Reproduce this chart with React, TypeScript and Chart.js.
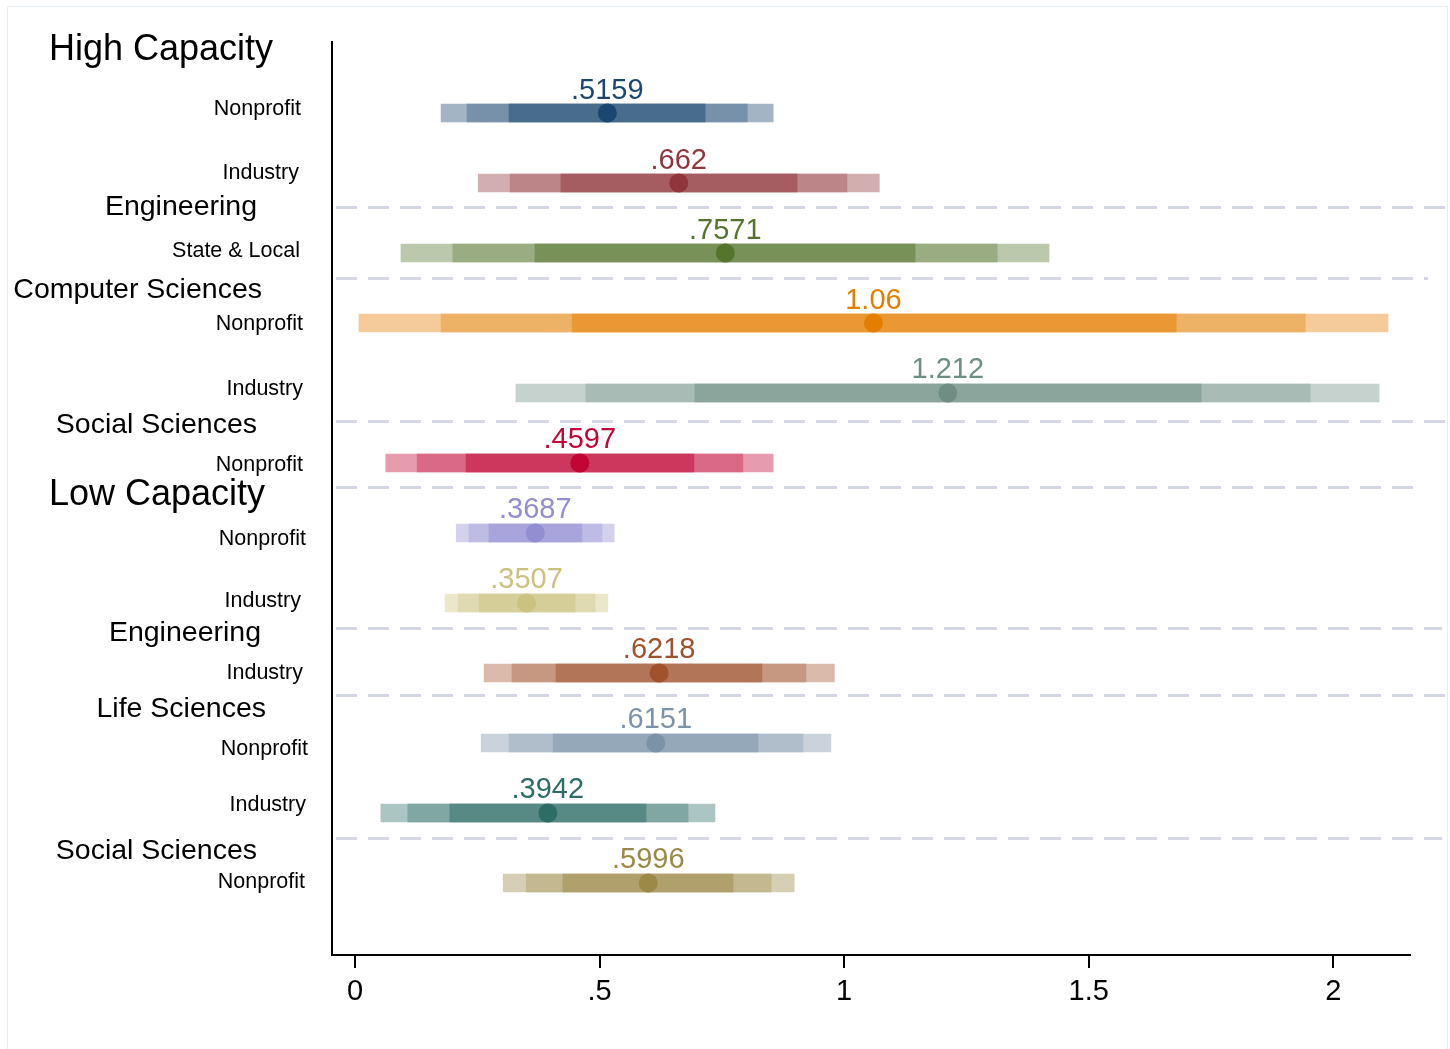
import React, { useEffect, useRef } from "react";
import { Chart, registerables } from "chart.js";

Chart.register(...registerables);

// ---------- data ----------
const rowLabels = [
  "Nonprofit", "Industry", "State & Local", "Nonprofit", "Industry", "Nonprofit",
  "Nonprofit", "Industry", "Industry", "Nonprofit", "Industry", "Nonprofit",
];
const estimates = [0.5159, 0.662, 0.7571, 1.06, 1.212, 0.4597, 0.3687, 0.3507, 0.6218, 0.6151, 0.3942, 0.5996];
const estimateText = [".5159", ".662", ".7571", "1.06", "1.212", ".4597", ".3687", ".3507", ".6218", ".6151", ".3942", ".5996"];

const outerLow = [0.176, 0.252, 0.094, 0.008, 0.329, 0.063, 0.207, 0.184, 0.264, 0.258, 0.053, 0.303];
const outerHigh = [0.855, 1.072, 1.419, 2.112, 2.094, 0.855, 0.530, 0.517, 0.980, 0.973, 0.736, 0.898];
const midLow = [0.229, 0.317, 0.200, 0.176, 0.472, 0.127, 0.233, 0.211, 0.321, 0.315, 0.108, 0.350];
const midHigh = [0.802, 1.006, 1.313, 1.943, 1.953, 0.793, 0.505, 0.491, 0.922, 0.916, 0.681, 0.851];
const innerLow = [0.315, 0.421, 0.368, 0.444, 0.695, 0.227, 0.274, 0.254, 0.411, 0.405, 0.194, 0.425];
const innerHigh = [0.716, 0.904, 1.145, 1.679, 1.730, 0.693, 0.464, 0.450, 0.832, 0.824, 0.595, 0.773];

const seriesColors: number[][] = [
  [26, 71, 111], [144, 53, 59], [85, 117, 47], [227, 126, 0], [110, 142, 132], [193, 5, 52],
  [147, 141, 210], [202, 194, 126], [160, 82, 45], [123, 146, 168], [45, 109, 102], [156, 136, 71],
];

const xTickValues = [0, 0.5, 1, 1.5, 2];
const xTickLabels = ["0", ".5", "1", "1.5", "2"];

const groupLabels = ["High Capacity", "Low Capacity"];
const categoryLabels = ["Engineering", "Computer Sciences", "Social Sciences", "Engineering", "Life Sciences", "Social Sciences"];

// ---------- layout (annotation placement) ----------
const groupLayout = [
  { row: -0.929, left: 49 },
  { row: 5.429, left: 49 },
];
const categoryLayout = [
  { row: 1.314, right: 257 },
  { row: 2.5, right: 262 },
  { row: 4.429, right: 257 },
  { row: 7.4, right: 261 },
  { row: 8.486, right: 266 },
  { row: 10.514, right: 257 },
];
const subLayout = [
  { row: -0.086, right: 301 },
  { row: 0.829, right: 299 },
  { row: 1.943, right: 300 },
  { row: 2.986, right: 303 },
  { row: 3.914, right: 303 },
  { row: 5.0, right: 303 },
  { row: 6.057, right: 306 },
  { row: 6.943, right: 301 },
  { row: 7.971, right: 303 },
  { row: 9.057, right: 308 },
  { row: 9.857, right: 306 },
  { row: 10.957, right: 305 },
];
const separatorLayout = [
  { row: 1.347, end: 2.235 },
  { row: 2.36, end: 2.194 },
  { row: 4.393, end: 2.233 },
  { row: 5.336, end: 2.186 },
  { row: 7.364, end: 2.223 },
  { row: 8.314, end: 2.231 },
  { row: 10.357, end: 2.223 },
];

const FONT = "'Liberation Sans', Arial, Helvetica, sans-serif";
const TEXT_SHIFT = 2.5;

function tint(c: number[], a: number) {
  const f = (v: number) => Math.round(255 - (255 - v) * a);
  return `rgb(${f(c[0])},${f(c[1])},${f(c[2])})`;
}
function solid(c: number[]) {
  return `rgb(${c[0]},${c[1]},${c[2]})`;
}

const annotationPlugin = {
  id: "annotations",
  beforeDraw(chart: any) {
    const ctx = chart.ctx;
    ctx.save();
    ctx.fillStyle = "#ffffff";
    ctx.fillRect(0, 0, chart.width, chart.height);
    ctx.strokeStyle = "#e6edf2";
    ctx.lineWidth = 1;
    ctx.beginPath();
    ctx.moveTo(7.5, chart.height);
    ctx.lineTo(7.5, 6.5);
    ctx.lineTo(1447.5, 6.5);
    ctx.lineTo(1447.5, chart.height);
    ctx.stroke();
    ctx.restore();
  },
  beforeDatasetsDraw(chart: any) {
    const ctx = chart.ctx;
    const xs = chart.scales.x;
    const ys = chart.scales.y;
    ctx.save();
    ctx.strokeStyle = "#d3d7e6";
    ctx.lineWidth = 3;
    ctx.setLineDash([21, 11]);
    separatorLayout.forEach((s) => {
      const y = Math.round(ys.getPixelForValue(s.row)) + 0.5;
      ctx.beginPath();
      ctx.moveTo(chart.chartArea.left + 4, y);
      ctx.lineTo(xs.getPixelForValue(s.end), y);
      ctx.stroke();
    });
    ctx.restore();
  },
  afterDraw(chart: any) {
    const ctx = chart.ctx;
    const ys = chart.scales.y;
    ctx.save();
    ctx.fillStyle = "#000000";
    ctx.textBaseline = "middle";

    ctx.font = `36px ${FONT}`;
    ctx.textAlign = "left";
    groupLabels.forEach((t, i) => {
      ctx.fillText(t, groupLayout[i].left, ys.getPixelForValue(groupLayout[i].row) + TEXT_SHIFT);
    });

    ctx.font = `28.5px ${FONT}`;
    ctx.textAlign = "right";
    categoryLabels.forEach((t, i) => {
      ctx.fillText(t, categoryLayout[i].right, ys.getPixelForValue(categoryLayout[i].row) + TEXT_SHIFT);
    });

    ctx.font = `21.5px ${FONT}`;
    ctx.textAlign = "right";
    rowLabels.forEach((t, i) => {
      ctx.fillText(t, subLayout[i].right, ys.getPixelForValue(subLayout[i].row) + TEXT_SHIFT);
    });

    // value labels above the points
    const meta = chart.getDatasetMeta(3);
    ctx.font = `29px ${FONT}`;
    ctx.textAlign = "center";
    meta.data.forEach((pt: any, i: number) => {
      ctx.fillStyle = solid(seriesColors[i]);
      ctx.fillText(estimateText[i], pt.x, pt.y - 25 + TEXT_SHIFT);
    });
    ctx.restore();
  },
};

function bandDataset(low: number[], high: number[], alpha: number, order: number) {
  return {
    type: "bar" as const,
    data: low.map((lo, i) => ({ y: i, x: [lo, high[i]] })),
    backgroundColor: seriesColors.map((c) => tint(c, alpha)),
    borderWidth: 0,
    barThickness: 18,
    grouped: false,
    order,
  };
}

export default function App() {
  const ref = useRef<HTMLCanvasElement | null>(null);
  useEffect(() => {
    if (!ref.current) return;
    const chart = new Chart(ref.current, {
      type: "bar",
      data: {
        datasets: [
          bandDataset(outerLow, outerHigh, 0.4, 3) as any,
          bandDataset(midLow, midHigh, 0.6, 2) as any,
          bandDataset(innerLow, innerHigh, 0.8, 1) as any,
          {
            type: "scatter",
            data: estimates.map((v, i) => ({ x: v, y: i })),
            pointRadius: 9.5,
            pointHoverRadius: 9.5,
            pointBackgroundColor: seriesColors.map((c) => solid(c)),
            pointBorderWidth: 0,
            showLine: false,
            order: 0,
          } as any,
        ],
      },
      options: {
        indexAxis: "y",
        animation: false,
        responsive: false,
        maintainAspectRatio: false,
        events: [],
        layout: { padding: { left: 0, right: 40, top: 42, bottom: 0 } },
        plugins: { legend: { display: false }, tooltip: { enabled: false }, title: { display: false } },
        scales: {
          x: {
            type: "linear",
            position: "bottom",
            offset: false,
            min: -0.047,
            max: 2.157,
            afterBuildTicks: (s: any) => {
              s.ticks = xTickValues.map((v) => ({ value: v }));
            },
            afterFit: (s: any) => {
              s.height = 94;
            },
            ticks: {
              color: "#000",
              font: { family: FONT, size: 29 },
              padding: 7,
              maxRotation: 0,
              autoSkip: false,
              callback: (v: any) => {
                const idx = xTickValues.indexOf(Number(v));
                return idx >= 0 ? xTickLabels[idx] : "";
              },
            },
            grid: {
              offset: false,
              drawOnChartArea: false,
              drawTicks: true,
              tickLength: 13,
              color: "#000",
              lineWidth: 2,
            },
            border: { display: true, color: "#000", width: 2 },
          },
          y: {
            type: "linear",
            position: "left",
            reverse: true,
            offset: false,
            min: -1.0143,
            max: 12.0286,
            afterFit: (s: any) => {
              s.width = 332;
            },
            ticks: { display: false },
            grid: { offset: false, drawOnChartArea: false, drawTicks: false },
            border: { display: true, color: "#000", width: 2 },
          },
        },
      } as any,
      plugins: [annotationPlugin],
    });
    return () => chart.destroy();
  }, []);
  return (
    <div style={{ position: "fixed", left: 0, top: 0, width: 1450, height: 1049, background: "#fff" }}>
      <canvas ref={ref} width={1450} height={1049} style={{ width: 1450, height: 1049, display: "block" }} />
    </div>
  );
}
